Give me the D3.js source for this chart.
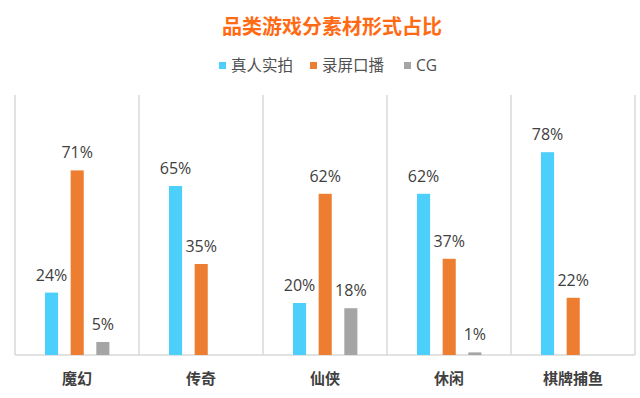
<!DOCTYPE html>
<html>
<head>
<meta charset="utf-8">
<script src="https://cdn.jsdelivr.net/npm/d3@7"></script>
<style>
  body { margin: 0; background: #fff; }
  text { font-family: "Open Sans", "Noto Sans CJK SC", sans-serif; }
</style>
</head>
<body>
<div id="chart"></div>
<script>
var ancho = 640, alto = 398;

var categorias = ["魔幻", "传奇", "仙侠", "休闲", "棋牌捕鱼"];
var series = ["真人实拍", "录屏口播", "CG"];
var zhenren = [24, 65, 20, 62, 78];
var luping = [71, 35, 62, 37, 22];
var cg = [5, null, 18, 1, null];
var colores = ["#4DCFFB", "#ED7D31", "#A5A5A5"];

var valores = [zhenren, luping, cg];
var datos = categorias.map(function (c, i) {
    return { cat: c, vals: series.map(function (s, j) { return { s: s, v: valores[j][i] }; }) };
});

var svg = d3.select("#chart").append("svg")
    .attr("width", ancho)
    .attr("height", alto);

var x0 = d3.scaleBand().domain(categorias).range([15, 635]).padding(0);
var x1 = d3.scaleBand().domain(series).range([30, 94.4]).paddingInner(0.49).paddingOuter(0);
var y = d3.scaleLinear().domain([0, 100]).range([355, 95]);

// separadores verticales
var bordes = categorias.map(function (c) { return x0(c); }).concat([x0.range()[1]]);
svg.selectAll("line.sep")
    .data(bordes)
    .enter()
    .append("line")
    .attr("class", "sep")
    .attr("x1", function (d) { return d; })
    .attr("x2", function (d) { return d; })
    .attr("y1", y(100))
    .attr("y2", y(0))
    .attr("stroke", "#d9d9d9")
    .attr("stroke-width", 1.5);

svg.append("line")
    .attr("x1", x0.range()[0]).attr("x2", x0.range()[1])
    .attr("y1", y(0)).attr("y2", y(0))
    .attr("stroke", "#d9d9d9")
    .attr("stroke-width", 1.5);

var grupos = svg.selectAll("g.grupo")
    .data(datos)
    .enter()
    .append("g")
    .attr("class", "grupo")
    .attr("transform", function (d) { return "translate(" + x0(d.cat) + ",0)"; });

var celdas = grupos.selectAll("g.celda")
    .data(function (d) { return d.vals.filter(function (e) { return e.v != null; }); })
    .enter()
    .append("g")
    .attr("class", "celda");

celdas.append("rect")
    .attr("x", function (d) { return x1(d.s); })
    .attr("y", function (d) { return y(d.v); })
    .attr("width", x1.bandwidth())
    .attr("height", function (d) { return y(0) - y(d.v); })
    .attr("fill", function (d) { return colores[series.indexOf(d.s)]; });

celdas.append("text")
    .text(function (d) { return d.v + "%"; })
    .attr("text-anchor", "middle")
    .attr("x", function (d) { return x1(d.s) + x1.bandwidth() / 2; })
    .attr("y", function (d) { return y(d.v) - 12; })
    .attr("font-size", "16px")
    .attr("fill", "#404040");

// eje de categorias
var eje = svg.append("g")
    .attr("transform", "translate(0," + y(0) + ")")
    .call(d3.axisBottom(x0).tickSize(0).tickPadding(18));
eje.select(".domain").remove();
eje.selectAll("text")
    .attr("font-family", "\"Noto Sans CJK SC\", sans-serif")
    .attr("font-size", "15px")
    .attr("font-weight", "bold")
    .attr("fill", "#404040");

// titulo
svg.append("text")
    .text("品类游戏分素材形式占比")
    .attr("x", 332)
    .attr("y", 34)
    .attr("text-anchor", "middle")
    .attr("font-family", "\"Noto Sans CJK SC\", sans-serif")
    .attr("font-size", "20px")
    .attr("font-weight", "bold")
    .attr("fill", "#FF6A13");

// leyenda
var leyX = [219, 310, 404];
var ley = svg.selectAll("g.ley")
    .data(series)
    .enter()
    .append("g")
    .attr("class", "ley")
    .attr("transform", function (d, i) { return "translate(" + leyX[i] + ",62)"; });
ley.append("rect")
    .attr("width", 7).attr("height", 7)
    .attr("fill", function (d, i) { return colores[i]; });
ley.append("text")
    .text(function (d) { return d; })
    .attr("x", 12)
    .attr("y", 9)
    .attr("font-family", "\"Noto Sans CJK SC\", sans-serif")
    .attr("font-size", "15.5px")
    .attr("fill", "#505050");
</script>
</body>
</html>
